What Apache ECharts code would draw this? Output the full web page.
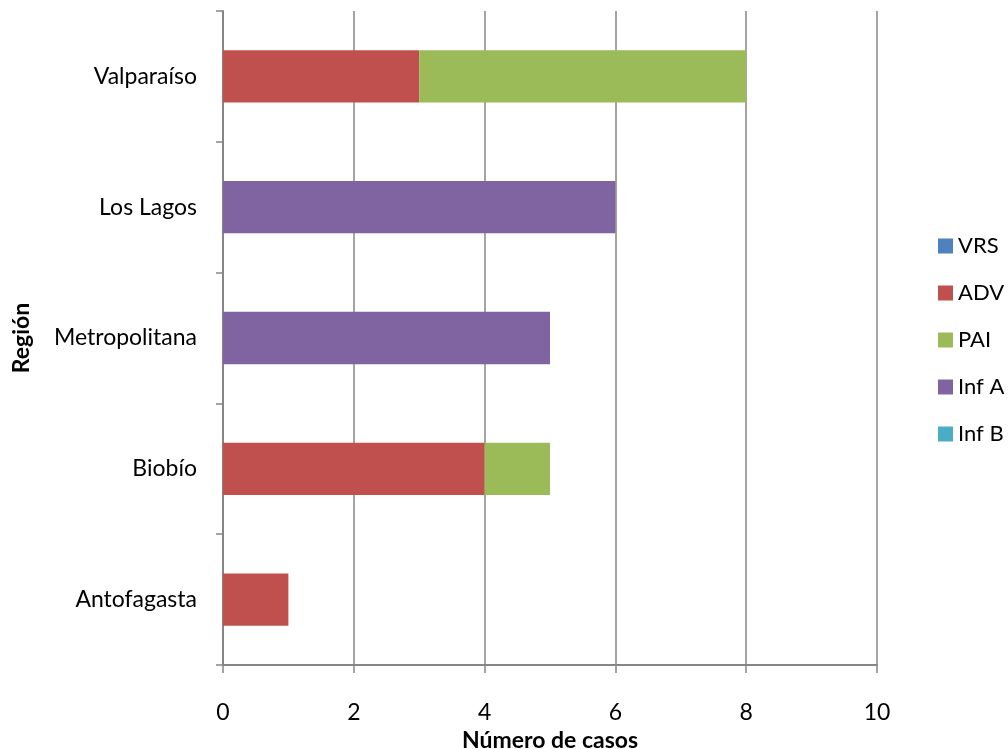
<!DOCTYPE html>
<html><head><meta charset="utf-8">
<script src="https://cdn.jsdelivr.net/npm/echarts@6/dist/echarts.min.js"></script>
<style>html,body{margin:0;padding:0;background:#fff}#c{width:1008px;height:749px}</style>
</head><body><div id="c"></div>
<script>
const categories = ['Antofagasta', 'Biobío', 'Metropolitana', 'Los Lagos', 'Valparaíso'];
const seriesNames = ['VRS', 'ADV', 'PAI', 'Inf A', 'Inf B'];
const colors = ['#4F81BD', '#C0504D', '#9BBB59', '#8064A2', '#4BACC6'];
const vrs  = [0, 0, 0, 0, 0];
const adv  = [1, 4, 0, 0, 3];
const pai  = [0, 1, 0, 0, 5];
const infA = [0, 0, 5, 6, 0];
const infB = [0, 0, 0, 0, 0];
const xTicks = [0, 2, 4, 6, 8, 10];
const values = [vrs, adv, pai, infA, infB];
const font = 'Lato, "Open Sans", sans-serif';

const chart = echarts.init(document.getElementById('c'), null, {renderer: 'canvas'});
chart.setOption({
  animation: false,
  color: colors,
  grid: {left: 223, right: 131, top: 11, bottom: 84, containLabel: false, outerBoundsMode: 'none'},
  legend: {
    orient: 'vertical', left: 933, top: 230,
    itemWidth: 15, itemHeight: 15, itemGap: 25,
    icon: 'rect',
    textStyle: {fontFamily: font, fontSize: 22, color: '#000'},
    data: seriesNames
  },
  xAxis: {
    type: 'value', min: xTicks[0], max: xTicks[xTicks.length-1], interval: 2,
    name: 'Número de casos', nameLocation: 'middle', nameGap: 58,
    nameTextStyle: {fontFamily: font, fontSize: 23, fontWeight: 'bold', color: '#000'},
    axisLine: {show: true, lineStyle: {color: '#868686', width: 2}},
    axisTick: {show: true, length: 8, lineStyle: {color: '#868686', width: 1.5}},
    axisLabel: {fontFamily: font, fontSize: 23, color: '#000', margin: 36},
    splitLine: {show: true, lineStyle: {color: '#868686', width: 1.5}}
  },
  yAxis: {
    type: 'category', data: categories,
    name: 'Región', nameLocation: 'middle', nameGap: 190, nameRotate: 90,
    nameTextStyle: {fontFamily: font, fontSize: 23, fontWeight: 'bold', color: '#000'},
    axisLine: {show: true, lineStyle: {color: '#868686', width: 2}},
    axisTick: {show: true, length: 7, lineStyle: {color: '#868686', width: 1.5}},
    axisLabel: {fontFamily: font, fontSize: 23, color: '#000', margin: 26}
  },
  series: seriesNames.map((n, i) => ({
    name: n, type: 'bar', stack: 'total', data: values[i],
    barWidth: '40%', itemStyle: {color: colors[i]}
  }))
});
</script></body></html>
